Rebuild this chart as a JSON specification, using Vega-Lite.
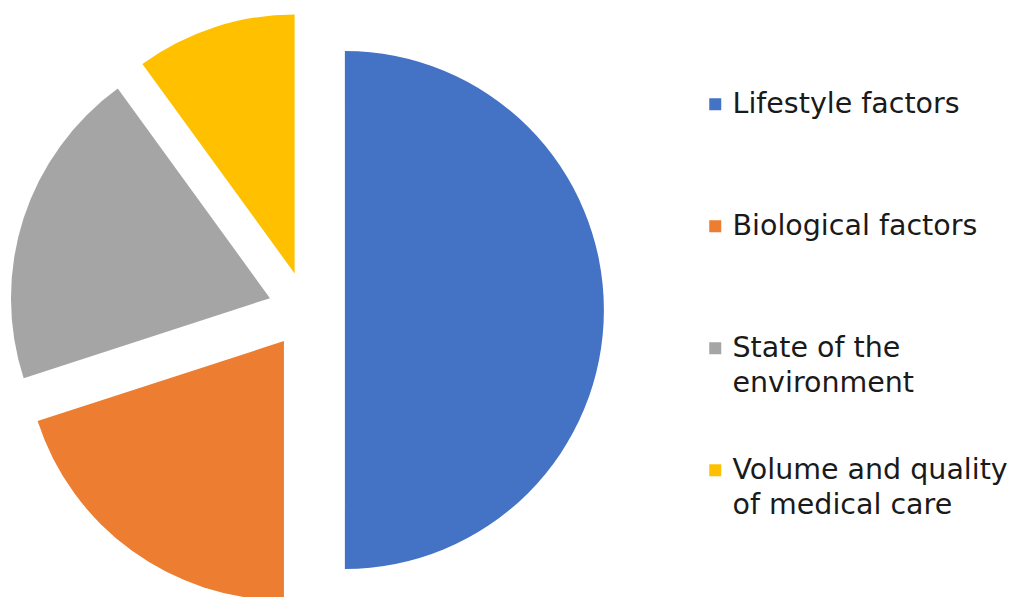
{
  "$schema": "https://vega.github.io/schema/vega-lite/v6.json",
  "width": 613,
  "height": 597,
  "padding": 0,
  "background": "white",
  "view": {"stroke": null},
  "data": {
    "values": [
      {"factor": "Lifestyle factors", "share": 50, "idx": 1},
      {"factor": "Biological factors", "share": 20, "idx": 2},
      {"factor": "State of the environment", "share": 20, "idx": 3},
      {"factor": "Volume and quality of medical care", "share": 10, "idx": 4}
    ]
  },
  "mark": {
    "type": "arc",
    "radius": 259,
    "xOffset": {"expr": "38.4*sin(PI*(datum.share_start+datum.share_end)/100)"},
    "yOffset": {"expr": "11.5-38.4*cos(PI*(datum.share_start+datum.share_end)/100)"}
  },
  "encoding": {
    "theta": {"field": "share", "type": "quantitative", "stack": true},
    "order": {"field": "idx", "type": "quantitative"},
    "color": {
      "field": "factor",
      "type": "nominal",
      "scale": {
        "domain": ["Lifestyle factors", "Biological factors", "State of the environment", "Volume and quality of medical care"],
        "range": ["#4472C4", "#ED7D31", "#A5A5A5", "#FFC000"]
      },
      "legend": {
        "title": null,
        "orient": "none",
        "legendX": 701,
        "legendY": 90,
        "symbolType": "square",
        "symbolSize": 144,
        "symbolStrokeWidth": 0,
        "labelFont": "DejaVu Sans",
        "labelFontSize": 28.5,
        "labelColor": "#1a1a1a",
        "labelLimit": 400,
        "labelOffset": 3,
        "gridAlign": "all",
        "rowPadding": 58,
        "labelExpr": "datum.label == 'State of the environment' ? ['State of the','environment'] : datum.label == 'Volume and quality of medical care' ? ['Volume and quality','of medical care'] : datum.label",
        "encode": {"labels": {"update": {"lineHeight": {"value": 35}}}}
      }
    }
  }
}
